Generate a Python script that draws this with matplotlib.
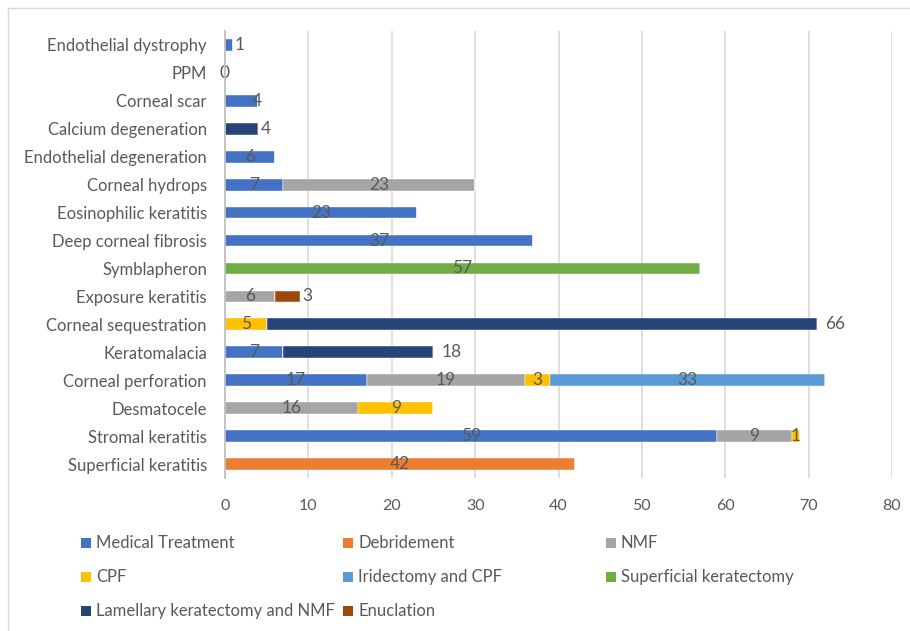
import numpy as np
import matplotlib.pyplot as plt
from matplotlib.patches import Rectangle
from matplotlib.lines import Line2D

plt.rcParams['font.family'] = ['Lato', 'DejaVu Sans']

# categories, bottom to top
categories = ['Superficial keratitis', 'Stromal keratitis', 'Desmatocele',
              'Corneal perforation', 'Keratomalacia', 'Corneal sequestration',
              'Exposure keratitis', 'Symblapheron', 'Deep corneal fibrosis',
              'Eosinophilic keratitis', 'Corneal hydrops', 'Endothelial degeneration',
              'Calcium degeneration', 'Corneal scar', 'PPM', 'Endothelial dystrophy']

series = ['Medical Treatment', 'Debridement', 'NMF', 'CPF', 'Iridectomy and CPF',
          'Superficial keratectomy', 'Lamellary keratectomy and NMF', 'Enuclation']

medical     = [0, 59, 0, 17, 7, 0, 0, 0, 37, 23, 7, 6, 0, 4, 0, 1]
debridement = [42, 0, 0, 0, 0, 0, 0, 0, 0, 0, 0, 0, 0, 0, 0, 0]
nmf         = [0, 9, 16, 19, 0, 0, 6, 0, 0, 0, 23, 0, 0, 0, 0, 0]
cpf         = [0, 1, 9, 3, 0, 5, 0, 0, 0, 0, 0, 0, 0, 0, 0, 0]
iridectomy  = [0, 0, 0, 33, 0, 0, 0, 0, 0, 0, 0, 0, 0, 0, 0, 0]
superficial = [0, 0, 0, 0, 0, 0, 0, 57, 0, 0, 0, 0, 0, 0, 0, 0]
lamellar    = [0, 0, 0, 0, 18, 66, 0, 0, 0, 0, 0, 0, 4, 0, 0, 0]
enuclation  = [0, 0, 0, 0, 0, 0, 3, 0, 0, 0, 0, 0, 0, 0, 0, 0]

values = [medical, debridement, nmf, cpf, iridectomy, superficial, lamellar, enuclation]
colors = ['#4472C4', '#ED7D31', '#A5A5A5', '#FFC000', '#5B9BD5', '#70AD47', '#264478', '#9E480E']

txt = '#595959'
lab_fs = 12.5
fig = plt.figure(figsize=(9.1, 6.31), dpi=100)
ax = fig.add_axes([225/910, 1-478/631, (892-225)/910, (478-31)/631])

y = np.arange(len(categories))
left = np.zeros(len(categories))
for name, vals, c in zip(series, values, colors):
    vals = np.array(vals, dtype=float)
    ax.barh(y, vals, left=left, height=0.42, color=c, edgecolor='white', linewidth=0.3, zorder=3)
    outside = name in ('Lamellary keratectomy and NMF', 'Enuclation')
    for i, v in enumerate(vals):
        if v == 0 and not (name == 'Medical Treatment' and categories[i] == 'PPM'):
            continue
        if outside:
            xs, ha = left[i] + v + (1.0 if v > 10 else 0.3), 'left'
        elif categories[i] == 'PPM':
            xs, ha = 0, 'center'
        elif categories[i] == 'Endothelial dystrophy':
            xs, ha = left[i] + v + 0.1, 'left'
        elif categories[i] == 'Corneal scar':
            xs, ha = left[i] + v - 0.2, 'center'
        else:
            xs, ha = left[i] + v / 2, 'center'
        ax.text(xs, i, '%d' % v, ha=ha, va='center', fontsize=lab_fs, color=txt, zorder=4)
    left += vals

ax.set_xlim(0, 80)
ax.set_ylim(-0.5, len(categories) - 0.5)
ax.set_xticks(np.arange(0, 81, 10))
ax.set_yticks(y)
ax.set_yticklabels(categories)
ax.tick_params(axis='both', length=0, labelcolor=txt)
ax.tick_params(axis='y', pad=13, labelsize=12)
ax.tick_params(axis='x', pad=15, labelsize=11.5)
ax.grid(axis='x', color='#D9D9D9', linewidth=1.2, zorder=0)
for s in ['top', 'right', 'bottom']:
    ax.spines[s].set_visible(False)
ax.spines['left'].set_color('#BFBFBF')
ax.spines['left'].set_linewidth(1.3)
ax.spines['left'].set_zorder(5)

# legend, 3 columns
col_x = [81, 343, 606]
row_y = [543, 577, 611]
for k, (name, c) in enumerate(zip(series, colors)):
    cx = col_x[k % 3]
    cy = row_y[k // 3]
    fig.add_artist(Rectangle((cx/910, 1-(cy+5)/631), 10/910, 10/631, transform=fig.transFigure,
                             facecolor=c, edgecolor='none'))
    fig.text((cx+15)/910, 1-cy/631, name, ha='left', va='center', fontsize=12, color=txt)

# chart border
fig.add_artist(Line2D([8/910, 1], [1-8/631, 1-8/631], transform=fig.transFigure, color='#D9D9D9', lw=1))
fig.add_artist(Line2D([8/910, 8/910], [0, 1-8/631], transform=fig.transFigure, color='#D9D9D9', lw=1))

fig.savefig('out.png', dpi=100)
